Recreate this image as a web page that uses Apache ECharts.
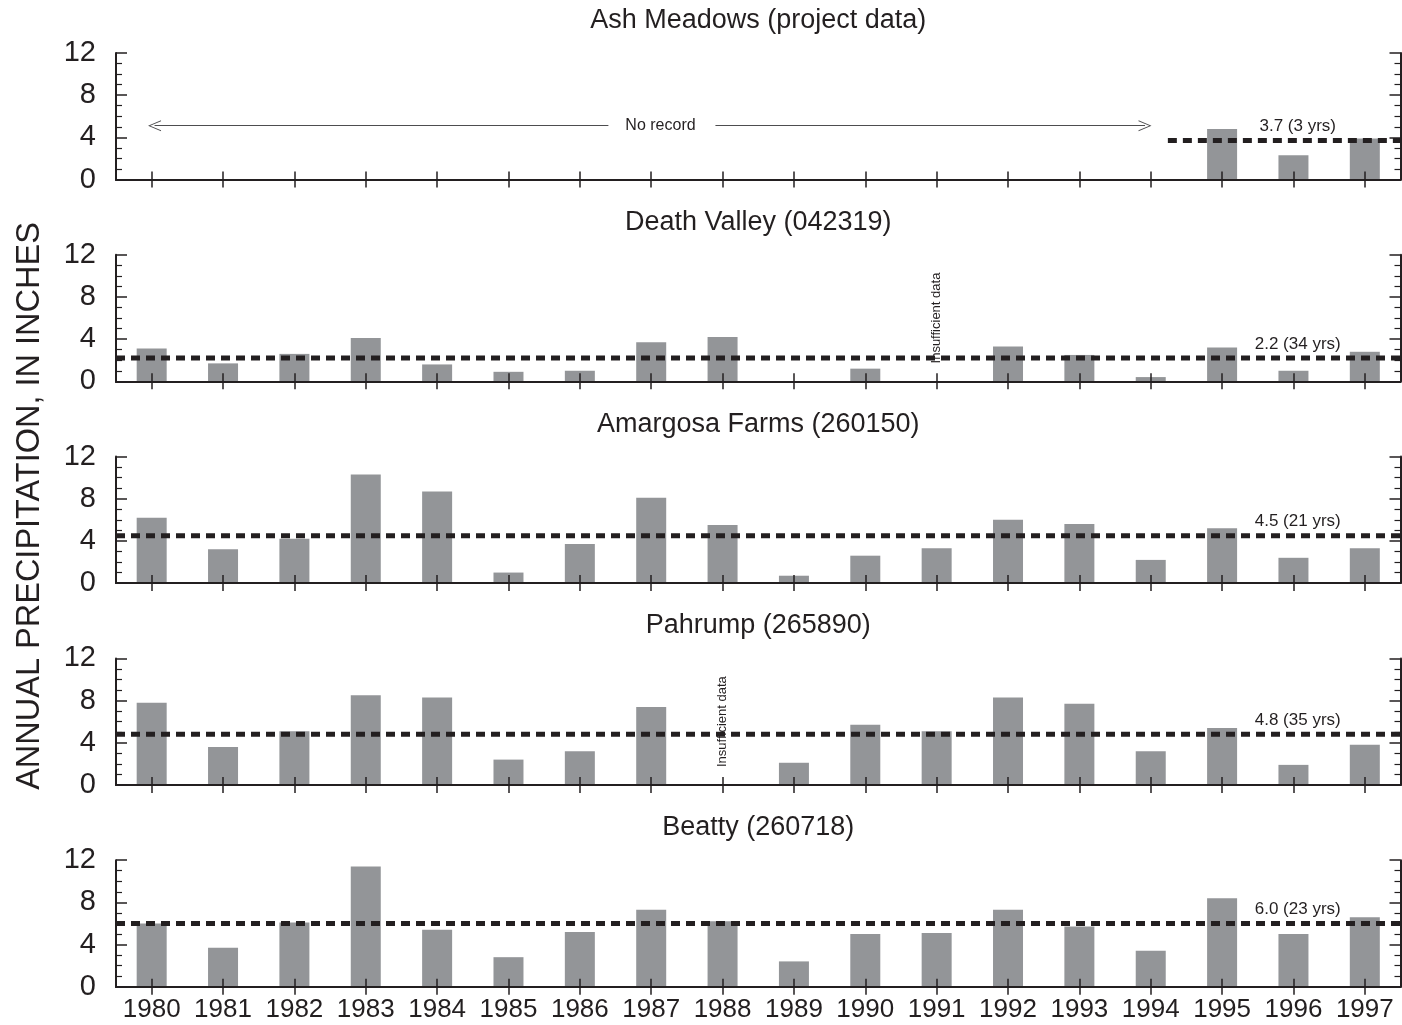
<!DOCTYPE html>
<html>
<head>
<meta charset="utf-8">
<title>Annual precipitation, 1980-1997</title>
<script src="https://cdn.jsdelivr.net/npm/echarts@6/dist/echarts.min.js"></script>
<style>
  html, body { margin: 0; padding: 0; background: #ffffff; }
  #chart { width: 1402px; height: 1025px; }
</style>
</head>
<body>
<div id="chart"></div>
<script>
// ---- data -------------------------------------------------------------
const YEARS = ['1980', '1981', '1982', '1983', '1984', '1985', '1986', '1987', '1988',
  '1989', '1990', '1991', '1992', '1993', '1994', '1995', '1996', '1997'];

const STATIONS = [
  'Ash Meadows (project data)',
  'Death Valley (042319)',
  'Amargosa Farms (260150)',
  'Pahrump (265890)',
  'Beatty (260718)'
];

// annual precipitation, inches (null = no record / insufficient data)
const ASH_MEADOWS = [null, null, null, null, null, null, null, null, null,
  null, null, null, null, null, null, 4.8, 2.3, 3.9];
const DEATH_VALLEY = [3.1, 1.7, 2.6, 4.1, 1.6, 0.9, 1.0, 3.7, 4.2,
  0, 1.2, null, 3.3, 2.5, 0.4, 3.2, 1.0, 2.8];
const AMARGOSA_FARMS = [6.2, 3.2, 4.2, 10.3, 8.7, 1.0, 3.7, 8.1, 5.5,
  0.7, 2.6, 3.3, 6.0, 5.6, 2.2, 5.2, 2.4, 3.3];
const PAHRUMP = [7.8, 3.6, 5.1, 8.5, 8.3, 2.4, 3.2, 7.4, null,
  2.1, 5.7, 5.1, 8.3, 7.7, 3.2, 5.4, 1.9, 3.8];
const BEATTY = [6.0, 3.7, 6.1, 11.4, 5.4, 2.8, 5.2, 7.3, 6.2,
  2.4, 5.0, 5.1, 7.3, 5.7, 3.4, 8.4, 5.0, 6.6];

const SERIES_VALUES = [ASH_MEADOWS, DEATH_VALLEY, AMARGOSA_FARMS, PAHRUMP, BEATTY];

// long-term mean and length of record for each station
const MEANS = [3.7, 2.2, 4.5, 4.8, 6.0];
const RECORD_YEARS = [3, 34, 21, 35, 23];

// years flagged as having insufficient data, per station
const INSUFFICIENT = [[], ['1991'], [], ['1988'], []];

// y-axis scale (inches)
const Y_MIN = 0, Y_MAX = 12, Y_STEP = 4;

// ---- layout / style ---------------------------------------------------
const FONT = '"Liberation Sans", Arial, Helvetica, sans-serif';
const INK = '#231f20';
const BAR = '#939598';
const LEFT = 116, RIGHT = 1.5, TOP0 = 53, STEP = 201.8, PANEL_H = 126.5;
const PLOT_W = 1402 - LEFT - RIGHT;
const CHEVRON = 'path://M0,13 L5.5,0 L11,13 L10,13 L5.5,2.2 L1,13 Z';

const grids = [], xAxes = [], yAxes = [], titles = [], series = [];

SERIES_VALUES.forEach(function (values, i) {
  const top = TOP0 + i * STEP;
  grids.push({ left: LEFT, top: top, width: PLOT_W, height: PANEL_H });

  titles.push({
    text: STATIONS[i],
    left: LEFT + PLOT_W / 2,
    top: top - 46,
    textAlign: 'center',
    padding: 0,
    textStyle: { fontFamily: FONT, fontSize: 27, fontWeight: 'normal', color: INK }
  });

  const axisLine = { show: true, lineStyle: { color: INK, width: 2 } };

  // bottom category axis
  xAxes.push({
    type: 'category', gridIndex: i, data: YEARS, position: 'bottom', z: 3,
    axisLine: axisLine,
    axisTick: { show: true, inside: true, length: 8, alignWithLabel: true, interval: 0,
      lineStyle: { color: INK, width: 1.5 } },
    axisLabel: { show: i === SERIES_VALUES.length - 1, interval: 0, margin: 10,
      fontFamily: FONT, fontSize: 26, color: INK },
    splitLine: { show: false }
  });
  // top mirror of the category axis (frame + ticks)
  xAxes.push({
    type: 'category', gridIndex: i, data: YEARS, position: 'top', z: 3,
    axisLine: axisLine,
    axisTick: { show: true, inside: true, length: 8, alignWithLabel: true, interval: 0,
      lineStyle: { color: INK, width: 1.5 } },
    axisLabel: { show: false },
    splitLine: { show: false }
  });
  // continuous year axis for the mean lines and annotations
  xAxes.push({
    type: 'value', gridIndex: i, min: 1979.5, max: 1997.5, show: false
  });

  const yCommon = {
    type: 'value', gridIndex: i, min: Y_MIN, max: Y_MAX, interval: Y_STEP, z: 3,
    axisLine: axisLine,
    axisTick: { show: true, inside: true, length: 11, lineStyle: { color: INK, width: 1.5 } },
    minorTick: { show: true, splitNumber: 4, length: 6, lineStyle: { color: INK, width: 1.2 } },
    splitLine: { show: false },
    minorSplitLine: { show: false }
  };
  yAxes.push(Object.assign({}, yCommon, {
    position: 'left',
    axisLabel: { show: true, margin: 20, fontFamily: FONT, fontSize: 29, color: INK }
  }));
  yAxes.push(Object.assign({}, yCommon, {
    position: 'right',
    axisLabel: { show: false }
  }));

  // bars
  series.push({
    type: 'bar',
    name: STATIONS[i],
    xAxisIndex: 3 * i,
    yAxisIndex: 2 * i,
    data: values,
    barWidth: 30,
    z: 2,
    itemStyle: { color: BAR, borderWidth: 0 },
    markPoint: INSUFFICIENT[i].length ? {
      symbol: 'circle', symbolSize: 0, silent: true,
      label: { show: true, position: 'inside', rotate: 90, formatter: 'Insufficient data',
        fontFamily: FONT, fontSize: 13, color: INK },
      data: INSUFFICIENT[i].map(function (y) { return { coord: [y, 6] }; })
    } : undefined
  });

  // long-term mean (dashed), with its label
  const start = i === 0 ? 1994.24 : 1979.5;
  const meanText = MEANS[i].toFixed(1) + ' (' + RECORD_YEARS[i] + ' yrs)';
  const points = [{
    coord: [1996.06, MEANS[i]],
    label: { show: true, position: 'inside', offset: [0, -14], formatter: meanText,
      fontFamily: FONT, fontSize: 17, color: INK }
  }];
  const meanSeries = {
    type: 'line',
    name: STATIONS[i] + ' mean',
    xAxisIndex: 3 * i + 2,
    yAxisIndex: 2 * i,
    data: [[start, MEANS[i]], [1997.5, MEANS[i]]],
    symbol: 'none',
    silent: true,
    z: 5,
    lineStyle: { color: INK, width: 5, type: [9, 6], cap: 'butt' },
    markPoint: { symbol: 'circle', symbolSize: 0, silent: true, data: points }
  };

  if (i === 0) {
    // span without a record, marked with a double arrow and a caption
    points.push({
      coord: [1987.13, 5.1],
      label: { show: true, position: 'inside', formatter: 'No record',
        fontFamily: FONT, fontSize: 16, color: INK }
    });
    meanSeries.markLine = {
      silent: true,
      symbol: ['none', CHEVRON],
      symbolSize: [11, 13],
      label: { show: false },
      lineStyle: { color: '#4d4d4f', width: 1.2, type: 'solid' },
      data: [
        [{ coord: [1986.4, 5.1] }, { coord: [1980.04, 5.1] }],
        [{ coord: [1987.9, 5.1] }, { coord: [1993.92, 5.1] }]
      ]
    };
  }
  series.push(meanSeries);
});

const chart = echarts.init(document.getElementById('chart'), null, { renderer: 'canvas' });
chart.setOption({
  backgroundColor: '#ffffff',
  animation: false,
  title: titles,
  grid: grids,
  xAxis: xAxes,
  yAxis: yAxes,
  series: series,
  graphic: [{
    type: 'text',
    x: 30,
    y: 506,
    rotation: Math.PI / 2,
    silent: true,
    style: {
      text: 'ANNUAL PRECIPITATION, IN INCHES',
      font: 'normal 32.5px ' + FONT,
      fill: INK,
      textAlign: 'center',
      textVerticalAlign: 'middle'
    }
  }]
});
</script>
</body>
</html>
